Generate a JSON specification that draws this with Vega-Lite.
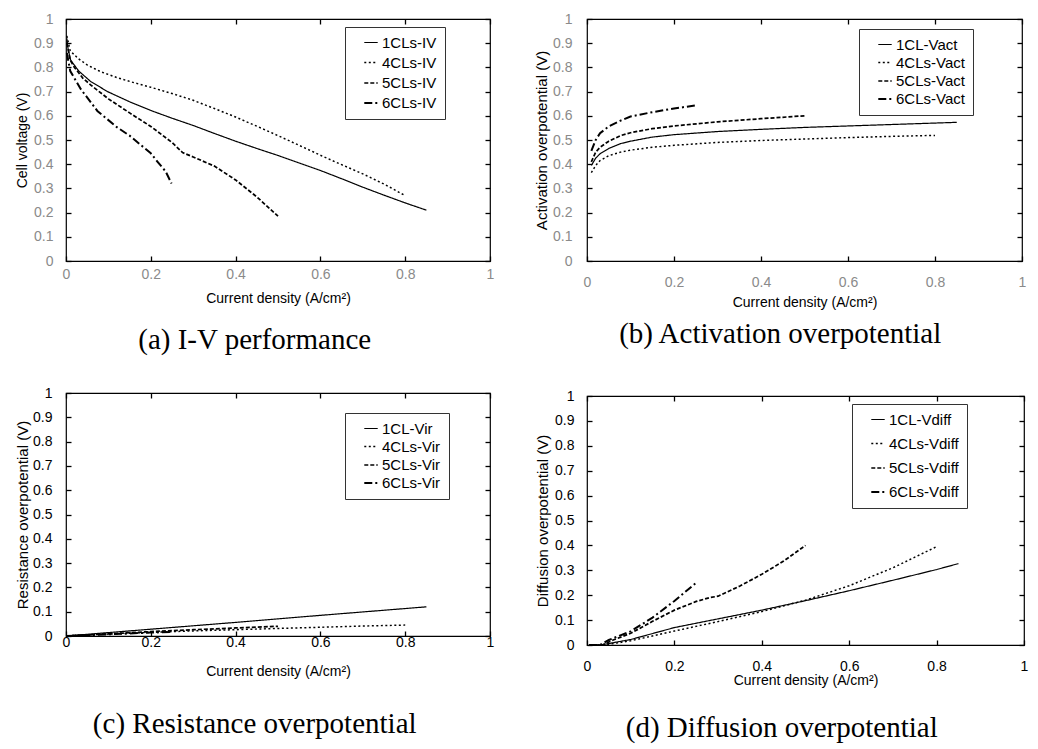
{
  "$schema": "https://vega.github.io/schema/vega-lite/v6.json",
  "background": "white",
  "padding": {"left": 14, "top": 11, "right": 5, "bottom": 2},
  "datasets": {
    "iv": [
      {"x":0.002,"y":0.92,"s":"1CLs-IV"},{"x":0.005,"y":0.875,"s":"1CLs-IV"},{"x":0.011,"y":0.83,"s":"1CLs-IV"},{"x":0.03,"y":0.785,"s":"1CLs-IV"},{"x":0.058,"y":0.742,"s":"1CLs-IV"},{"x":0.098,"y":0.70,"s":"1CLs-IV"},{"x":0.15,"y":0.658,"s":"1CLs-IV"},{"x":0.2,"y":0.622,"s":"1CLs-IV"},{"x":0.25,"y":0.59,"s":"1CLs-IV"},{"x":0.3,"y":0.56,"s":"1CLs-IV"},{"x":0.35,"y":0.527,"s":"1CLs-IV"},{"x":0.4,"y":0.495,"s":"1CLs-IV"},{"x":0.45,"y":0.465,"s":"1CLs-IV"},{"x":0.5,"y":0.436,"s":"1CLs-IV"},{"x":0.55,"y":0.405,"s":"1CLs-IV"},{"x":0.6,"y":0.374,"s":"1CLs-IV"},{"x":0.65,"y":0.34,"s":"1CLs-IV"},{"x":0.7,"y":0.305,"s":"1CLs-IV"},{"x":0.75,"y":0.272,"s":"1CLs-IV"},{"x":0.8,"y":0.24,"s":"1CLs-IV"},{"x":0.85,"y":0.21,"s":"1CLs-IV"},
      {"x":0.002,"y":0.93,"s":"4CLs-IV"},{"x":0.01,"y":0.868,"s":"4CLs-IV"},{"x":0.03,"y":0.835,"s":"4CLs-IV"},{"x":0.05,"y":0.81,"s":"4CLs-IV"},{"x":0.082,"y":0.782,"s":"4CLs-IV"},{"x":0.12,"y":0.758,"s":"4CLs-IV"},{"x":0.16,"y":0.737,"s":"4CLs-IV"},{"x":0.2,"y":0.718,"s":"4CLs-IV"},{"x":0.25,"y":0.692,"s":"4CLs-IV"},{"x":0.3,"y":0.664,"s":"4CLs-IV"},{"x":0.35,"y":0.63,"s":"4CLs-IV"},{"x":0.4,"y":0.595,"s":"4CLs-IV"},{"x":0.45,"y":0.557,"s":"4CLs-IV"},{"x":0.5,"y":0.518,"s":"4CLs-IV"},{"x":0.55,"y":0.478,"s":"4CLs-IV"},{"x":0.6,"y":0.437,"s":"4CLs-IV"},{"x":0.65,"y":0.398,"s":"4CLs-IV"},{"x":0.7,"y":0.36,"s":"4CLs-IV"},{"x":0.75,"y":0.318,"s":"4CLs-IV"},{"x":0.8,"y":0.27,"s":"4CLs-IV"},
      {"x":0.002,"y":0.9,"s":"5CLs-IV"},{"x":0.01,"y":0.83,"s":"5CLs-IV"},{"x":0.02,"y":0.8,"s":"5CLs-IV"},{"x":0.04,"y":0.755,"s":"5CLs-IV"},{"x":0.06,"y":0.725,"s":"5CLs-IV"},{"x":0.1,"y":0.67,"s":"5CLs-IV"},{"x":0.15,"y":0.612,"s":"5CLs-IV"},{"x":0.2,"y":0.556,"s":"5CLs-IV"},{"x":0.25,"y":0.49,"s":"5CLs-IV"},{"x":0.275,"y":0.448,"s":"5CLs-IV"},{"x":0.3,"y":0.43,"s":"5CLs-IV"},{"x":0.35,"y":0.392,"s":"5CLs-IV"},{"x":0.4,"y":0.335,"s":"5CLs-IV"},{"x":0.45,"y":0.265,"s":"5CLs-IV"},{"x":0.5,"y":0.185,"s":"5CLs-IV"},
      {"x":0.002,"y":0.86,"s":"6CLs-IV"},{"x":0.01,"y":0.785,"s":"6CLs-IV"},{"x":0.035,"y":0.71,"s":"6CLs-IV"},{"x":0.074,"y":0.62,"s":"6CLs-IV"},{"x":0.12,"y":0.553,"s":"6CLs-IV"},{"x":0.15,"y":0.518,"s":"6CLs-IV"},{"x":0.176,"y":0.48,"s":"6CLs-IV"},{"x":0.2,"y":0.445,"s":"6CLs-IV"},{"x":0.216,"y":0.41,"s":"6CLs-IV"},{"x":0.235,"y":0.37,"s":"6CLs-IV"},{"x":0.249,"y":0.32,"s":"6CLs-IV"}
    ],
    "act": [
      {"x":0.01,"y":0.395,"s":"1CL-Vact"},{"x":0.02,"y":0.425,"s":"1CL-Vact"},{"x":0.03,"y":0.443,"s":"1CL-Vact"},{"x":0.05,"y":0.465,"s":"1CL-Vact"},{"x":0.077,"y":0.485,"s":"1CL-Vact"},{"x":0.1,"y":0.495,"s":"1CL-Vact"},{"x":0.15,"y":0.512,"s":"1CL-Vact"},{"x":0.2,"y":0.522,"s":"1CL-Vact"},{"x":0.3,"y":0.535,"s":"1CL-Vact"},{"x":0.4,"y":0.544,"s":"1CL-Vact"},{"x":0.5,"y":0.552,"s":"1CL-Vact"},{"x":0.6,"y":0.558,"s":"1CL-Vact"},{"x":0.7,"y":0.564,"s":"1CL-Vact"},{"x":0.85,"y":0.573,"s":"1CL-Vact"},
      {"x":0.01,"y":0.365,"s":"4CLs-Vact"},{"x":0.02,"y":0.395,"s":"4CLs-Vact"},{"x":0.03,"y":0.415,"s":"4CLs-Vact"},{"x":0.05,"y":0.435,"s":"4CLs-Vact"},{"x":0.077,"y":0.45,"s":"4CLs-Vact"},{"x":0.1,"y":0.458,"s":"4CLs-Vact"},{"x":0.15,"y":0.47,"s":"4CLs-Vact"},{"x":0.2,"y":0.478,"s":"4CLs-Vact"},{"x":0.3,"y":0.49,"s":"4CLs-Vact"},{"x":0.4,"y":0.498,"s":"4CLs-Vact"},{"x":0.5,"y":0.504,"s":"4CLs-Vact"},{"x":0.6,"y":0.51,"s":"4CLs-Vact"},{"x":0.7,"y":0.515,"s":"4CLs-Vact"},{"x":0.8,"y":0.519,"s":"4CLs-Vact"},
      {"x":0.01,"y":0.41,"s":"5CLs-Vact"},{"x":0.02,"y":0.45,"s":"5CLs-Vact"},{"x":0.03,"y":0.47,"s":"5CLs-Vact"},{"x":0.05,"y":0.495,"s":"5CLs-Vact"},{"x":0.077,"y":0.518,"s":"5CLs-Vact"},{"x":0.1,"y":0.53,"s":"5CLs-Vact"},{"x":0.15,"y":0.547,"s":"5CLs-Vact"},{"x":0.2,"y":0.558,"s":"5CLs-Vact"},{"x":0.3,"y":0.575,"s":"5CLs-Vact"},{"x":0.4,"y":0.588,"s":"5CLs-Vact"},{"x":0.5,"y":0.6,"s":"5CLs-Vact"},
      {"x":0.01,"y":0.455,"s":"6CLs-Vact"},{"x":0.02,"y":0.5,"s":"6CLs-Vact"},{"x":0.03,"y":0.528,"s":"6CLs-Vact"},{"x":0.05,"y":0.556,"s":"6CLs-Vact"},{"x":0.077,"y":0.58,"s":"6CLs-Vact"},{"x":0.1,"y":0.597,"s":"6CLs-Vact"},{"x":0.15,"y":0.615,"s":"6CLs-Vact"},{"x":0.2,"y":0.63,"s":"6CLs-Vact"},{"x":0.25,"y":0.643,"s":"6CLs-Vact"}
    ],
    "ir": [
      {"x":0,"y":0,"s":"1CL-Vir"},{"x":0.2,"y":0.028,"s":"1CL-Vir"},{"x":0.4,"y":0.056,"s":"1CL-Vir"},{"x":0.6,"y":0.085,"s":"1CL-Vir"},{"x":0.85,"y":0.12,"s":"1CL-Vir"},
      {"x":0,"y":0,"s":"4CLs-Vir"},{"x":0.1,"y":0.008,"s":"4CLs-Vir"},{"x":0.2,"y":0.015,"s":"4CLs-Vir"},{"x":0.3,"y":0.021,"s":"4CLs-Vir"},{"x":0.4,"y":0.026,"s":"4CLs-Vir"},{"x":0.5,"y":0.031,"s":"4CLs-Vir"},{"x":0.6,"y":0.036,"s":"4CLs-Vir"},{"x":0.7,"y":0.041,"s":"4CLs-Vir"},{"x":0.8,"y":0.045,"s":"4CLs-Vir"},
      {"x":0,"y":0,"s":"5CLs-Vir"},{"x":0.1,"y":0.009,"s":"5CLs-Vir"},{"x":0.2,"y":0.018,"s":"5CLs-Vir"},{"x":0.3,"y":0.026,"s":"5CLs-Vir"},{"x":0.4,"y":0.033,"s":"5CLs-Vir"},{"x":0.5,"y":0.04,"s":"5CLs-Vir"},
      {"x":0,"y":0,"s":"6CLs-Vir"},{"x":0.1,"y":0.007,"s":"6CLs-Vir"},{"x":0.2,"y":0.014,"s":"6CLs-Vir"},{"x":0.25,"y":0.017,"s":"6CLs-Vir"}
    ],
    "diff": [
      {"x":0.005,"y":0,"s":"1CL-Vdiff"},{"x":0.03,"y":0,"s":"1CL-Vdiff"},{"x":0.05,"y":0.006,"s":"1CL-Vdiff"},{"x":0.1,"y":0.022,"s":"1CL-Vdiff"},{"x":0.2,"y":0.07,"s":"1CL-Vdiff"},{"x":0.3,"y":0.105,"s":"1CL-Vdiff"},{"x":0.4,"y":0.14,"s":"1CL-Vdiff"},{"x":0.5,"y":0.178,"s":"1CL-Vdiff"},{"x":0.6,"y":0.218,"s":"1CL-Vdiff"},{"x":0.7,"y":0.26,"s":"1CL-Vdiff"},{"x":0.8,"y":0.303,"s":"1CL-Vdiff"},{"x":0.85,"y":0.327,"s":"1CL-Vdiff"},
      {"x":0.005,"y":0,"s":"4CLs-Vdiff"},{"x":0.04,"y":0,"s":"4CLs-Vdiff"},{"x":0.1,"y":0.017,"s":"4CLs-Vdiff"},{"x":0.2,"y":0.056,"s":"4CLs-Vdiff"},{"x":0.3,"y":0.094,"s":"4CLs-Vdiff"},{"x":0.4,"y":0.134,"s":"4CLs-Vdiff"},{"x":0.5,"y":0.18,"s":"4CLs-Vdiff"},{"x":0.6,"y":0.238,"s":"4CLs-Vdiff"},{"x":0.7,"y":0.31,"s":"4CLs-Vdiff"},{"x":0.8,"y":0.395,"s":"4CLs-Vdiff"},
      {"x":0.005,"y":0,"s":"5CLs-Vdiff"},{"x":0.035,"y":0,"s":"5CLs-Vdiff"},{"x":0.06,"y":0.02,"s":"5CLs-Vdiff"},{"x":0.1,"y":0.047,"s":"5CLs-Vdiff"},{"x":0.15,"y":0.095,"s":"5CLs-Vdiff"},{"x":0.2,"y":0.14,"s":"5CLs-Vdiff"},{"x":0.25,"y":0.175,"s":"5CLs-Vdiff"},{"x":0.28,"y":0.19,"s":"5CLs-Vdiff"},{"x":0.3,"y":0.196,"s":"5CLs-Vdiff"},{"x":0.35,"y":0.237,"s":"5CLs-Vdiff"},{"x":0.4,"y":0.284,"s":"5CLs-Vdiff"},{"x":0.45,"y":0.337,"s":"5CLs-Vdiff"},{"x":0.5,"y":0.4,"s":"5CLs-Vdiff"},
      {"x":0.005,"y":0,"s":"6CLs-Vdiff"},{"x":0.03,"y":0,"s":"6CLs-Vdiff"},{"x":0.05,"y":0.02,"s":"6CLs-Vdiff"},{"x":0.1,"y":0.055,"s":"6CLs-Vdiff"},{"x":0.15,"y":0.11,"s":"6CLs-Vdiff"},{"x":0.2,"y":0.177,"s":"6CLs-Vdiff"},{"x":0.25,"y":0.25,"s":"6CLs-Vdiff"}
    ]
  },
  "spacing": 38,
  "resolve": {"scale": {"strokeDash": "independent", "strokeWidth": "independent"}, "legend": {"strokeDash": "independent"}},
  "hconcat": [
    {
      "spacing": 29,
      "resolve": {"scale": {"strokeDash": "independent", "strokeWidth": "independent"}, "legend": {"strokeDash": "independent"}},
      "vconcat": [
        {
          "width": 424, "height": 242,
          "title": {"text": "(a) I-V performance", "orient": "bottom", "offset": 21, "frame": "bounds"},
          "data": {"name": "iv"},
          "layer": [
            {
              "mark": {"type": "line", "color": "black"},
              "encoding": {
                "x": {"field": "x", "type": "quantitative", "scale": {"domain": [0, 1]}, "axis": {"title": "Current density (A/cm²)", "values": [0, 0.2, 0.4, 0.6, 0.8, 1], "format": "~g", "labelColor": "#8a8a8a", "labelPadding": 6, "titlePadding": 10}},
                "y": {"field": "y", "type": "quantitative", "scale": {"domain": [0, 1]}, "axis": {"title": "Cell voltage (V)", "values": [0, 0.1, 0.2, 0.3, 0.4, 0.5, 0.6, 0.7, 0.8, 0.9, 1], "format": "~g", "labelColor": "#8a8a8a", "labelPadding": 13, "titlePadding": 4, "titleFontSize": 14}},
                "strokeDash": {"field": "s", "type": "nominal", "scale": {"domain": ["1CLs-IV", "4CLs-IV", "5CLs-IV", "6CLs-IV"], "range": [[1, 0], [2, 2.5], [4, 2], [8, 3, 2, 3]]}, "legend": {"orient": "none", "legendX": 279, "legendY": 8, "rowPadding": 4}},
                "strokeWidth": {"field": "s", "type": "nominal", "scale": {"domain": ["1CLs-IV", "4CLs-IV", "5CLs-IV", "6CLs-IV"], "range": [1.2, 2, 1.4, 1]}, "legend": null}
              }
            },
            {
              "mark": {"type": "line", "opacity": 0},
              "encoding": {
                "x": {"field": "x", "type": "quantitative", "scale": {"domain": [0, 1]}, "axis": {"orient": "top", "labels": false, "title": null, "values": [0, 0.2, 0.4, 0.6, 0.8, 1]}},
                "y": {"field": "y", "type": "quantitative", "scale": {"domain": [0, 1]}, "axis": {"orient": "right", "labels": false, "title": null, "values": [0, 0.1, 0.2, 0.3, 0.4, 0.5, 0.6, 0.7, 0.8, 0.9, 1]}},
                "detail": {"field": "s"}
              }
            }
          ],
          "resolve": {"scale": {"x": "independent", "y": "independent"}, "axis": {"x": "independent", "y": "independent"}}
        },
        {
          "width": 424, "height": 243,
          "title": {"text": "(c) Resistance overpotential", "orient": "bottom", "offset": 32, "frame": "bounds"},
          "data": {"name": "ir"},
          "layer": [
            {
              "mark": {"type": "line", "color": "black"},
              "encoding": {
                "x": {"field": "x", "type": "quantitative", "scale": {"domain": [0, 1]}, "axis": {"title": "Current density (A/cm²)", "values": [0, 0.2, 0.4, 0.6, 0.8, 1], "format": "~g", "labelColor": "black", "labelPadding": -1, "titlePadding": 15}},
                "y": {"field": "y", "type": "quantitative", "scale": {"domain": [0, 1]}, "axis": {"title": "Resistance overpotential (V)", "values": [0, 0.1, 0.2, 0.3, 0.4, 0.5, 0.6, 0.7, 0.8, 0.9, 1], "format": "~g", "labelColor": "black", "labelPadding": 14, "titlePadding": 2}},
                "strokeDash": {"field": "s", "type": "nominal", "scale": {"domain": ["1CL-Vir", "4CLs-Vir", "5CLs-Vir", "6CLs-Vir"], "range": [[1, 0], [2, 2.5], [4, 2], [8, 3, 2, 3]]}, "legend": {"orient": "none", "legendX": 279, "legendY": 20, "rowPadding": 2}},
                "strokeWidth": {"field": "s", "type": "nominal", "scale": {"domain": ["1CL-Vir", "4CLs-Vir", "5CLs-Vir", "6CLs-Vir"], "range": [1.2, 2, 1.4, 1]}, "legend": null}
              }
            },
            {
              "mark": {"type": "line", "opacity": 0},
              "encoding": {
                "x": {"field": "x", "type": "quantitative", "scale": {"domain": [0, 1]}, "axis": {"orient": "top", "labels": false, "title": null, "values": [0, 0.2, 0.4, 0.6, 0.8, 1]}},
                "y": {"field": "y", "type": "quantitative", "scale": {"domain": [0, 1]}, "axis": {"orient": "right", "labels": false, "title": null, "values": [0, 0.1, 0.2, 0.3, 0.4, 0.5, 0.6, 0.7, 0.8, 0.9, 1]}},
                "detail": {"field": "s"}
              }
            }
          ],
          "resolve": {"scale": {"x": "independent", "y": "independent"}, "axis": {"x": "independent", "y": "independent"}}
        }
      ]
    },
    {
      "spacing": 38,
      "resolve": {"scale": {"strokeDash": "independent", "strokeWidth": "independent"}, "legend": {"strokeDash": "independent"}},
      "vconcat": [
        {
          "width": 435, "height": 242,
          "title": {"text": "(b) Activation overpotential", "orient": "bottom", "offset": 11, "frame": "bounds"},
          "data": {"name": "act"},
          "layer": [
            {
              "mark": {"type": "line", "color": "black"},
              "encoding": {
                "x": {"field": "x", "type": "quantitative", "scale": {"domain": [0, 1]}, "axis": {"title": "Current density (A/cm²)", "values": [0, 0.2, 0.4, 0.6, 0.8, 1], "format": "~g", "labelColor": "#8a8a8a", "labelPadding": 14, "titlePadding": 6}},
                "y": {"field": "y", "type": "quantitative", "scale": {"domain": [0, 1]}, "axis": {"title": "Activation overpotential (V)", "values": [0, 0.1, 0.2, 0.3, 0.4, 0.5, 0.6, 0.7, 0.8, 0.9, 1], "format": "~g", "labelColor": "#8a8a8a", "labelPadding": 15, "titlePadding": 3}},
                "strokeDash": {"field": "s", "type": "nominal", "scale": {"domain": ["1CL-Vact", "4CLs-Vact", "5CLs-Vact", "6CLs-Vact"], "range": [[1, 0], [2, 2.5], [4, 2], [8, 3, 2, 3]]}, "legend": {"orient": "none", "legendX": 272, "legendY": 10, "rowPadding": 2}},
                "strokeWidth": {"field": "s", "type": "nominal", "scale": {"domain": ["1CL-Vact", "4CLs-Vact", "5CLs-Vact", "6CLs-Vact"], "range": [1.2, 2, 1.4, 1]}, "legend": null}
              }
            },
            {
              "mark": {"type": "line", "opacity": 0},
              "encoding": {
                "x": {"field": "x", "type": "quantitative", "scale": {"domain": [0, 1]}, "axis": {"orient": "top", "labels": false, "title": null, "values": [0, 0.2, 0.4, 0.6, 0.8, 1]}},
                "y": {"field": "y", "type": "quantitative", "scale": {"domain": [0, 1]}, "axis": {"orient": "right", "labels": false, "title": null, "values": [0, 0.1, 0.2, 0.3, 0.4, 0.5, 0.6, 0.7, 0.8, 0.9, 1]}},
                "detail": {"field": "s"}
              }
            }
          ],
          "resolve": {"scale": {"x": "independent", "y": "independent"}, "axis": {"x": "independent", "y": "independent"}}
        },
        {
          "width": 437, "height": 249,
          "title": {"text": "(d) Diffusion overpotential", "orient": "bottom", "offset": 27, "frame": "bounds"},
          "data": {"name": "diff"},
          "layer": [
            {
              "mark": {"type": "line", "color": "black"},
              "encoding": {
                "x": {"field": "x", "type": "quantitative", "scale": {"domain": [0, 1]}, "axis": {"title": "Current density (A/cm²)", "values": [0, 0.2, 0.4, 0.6, 0.8, 1], "format": "~g", "labelColor": "black", "labelPadding": 14, "titlePadding": 0}},
                "y": {"field": "y", "type": "quantitative", "scale": {"domain": [0, 1]}, "axis": {"title": "Diffusion overpotential (V)", "values": [0, 0.1, 0.2, 0.3, 0.4, 0.5, 0.6, 0.7, 0.8, 0.9, 1], "format": "~g", "labelColor": "black", "labelPadding": 13, "titlePadding": 4}},
                "strokeDash": {"field": "s", "type": "nominal", "scale": {"domain": ["1CL-Vdiff", "4CLs-Vdiff", "5CLs-Vdiff", "6CLs-Vdiff"], "range": [[1, 0], [2, 2.5], [4, 2], [8, 3, 2, 3]]}, "legend": {"orient": "none", "legendX": 265, "legendY": 8, "rowPadding": 8}},
                "strokeWidth": {"field": "s", "type": "nominal", "scale": {"domain": ["1CL-Vdiff", "4CLs-Vdiff", "5CLs-Vdiff", "6CLs-Vdiff"], "range": [1.2, 2, 1.4, 1]}, "legend": null}
              }
            },
            {
              "mark": {"type": "line", "opacity": 0},
              "encoding": {
                "x": {"field": "x", "type": "quantitative", "scale": {"domain": [0, 1]}, "axis": {"orient": "top", "labels": false, "title": null, "values": [0, 0.2, 0.4, 0.6, 0.8, 1]}},
                "y": {"field": "y", "type": "quantitative", "scale": {"domain": [0, 1]}, "axis": {"orient": "right", "labels": false, "title": null, "values": [0, 0.1, 0.2, 0.3, 0.4, 0.5, 0.6, 0.7, 0.8, 0.9, 1]}},
                "detail": {"field": "s"}
              }
            }
          ],
          "resolve": {"scale": {"x": "independent", "y": "independent"}, "axis": {"x": "independent", "y": "independent"}}
        }
      ]
    }
  ],
  "config": {
    "font": "Liberation Sans",
    "view": {"stroke": "black", "strokeWidth": 1.2},
    "axis": {"grid": false, "domain": false, "offset": -5, "ticks": true, "tickColor": "black", "tickWidth": 1.3, "tickSize": 5, "labelFlush": false, "labelFont": "Liberation Sans", "labelFontSize": 14, "titleFont": "Liberation Sans", "titleFontSize": 15, "titleFontWeight": "normal", "titleColor": "black"},
    "axisX": {"titleFontSize": 14},
    "legend": {"title": null, "strokeColor": "#333", "fillColor": "white", "padding": 8, "symbolType": "stroke", "symbolSize": 180, "symbolStrokeWidth": 1.5, "symbolStrokeColor": "black", "symbolOffset": 10, "labelFont": "Liberation Sans", "labelFontSize": 15, "labelColor": "black", "labelOffset": 3},
    "title": {"font": "Liberation Serif", "fontSize": 29, "fontWeight": "normal", "color": "black"}
  }
}
